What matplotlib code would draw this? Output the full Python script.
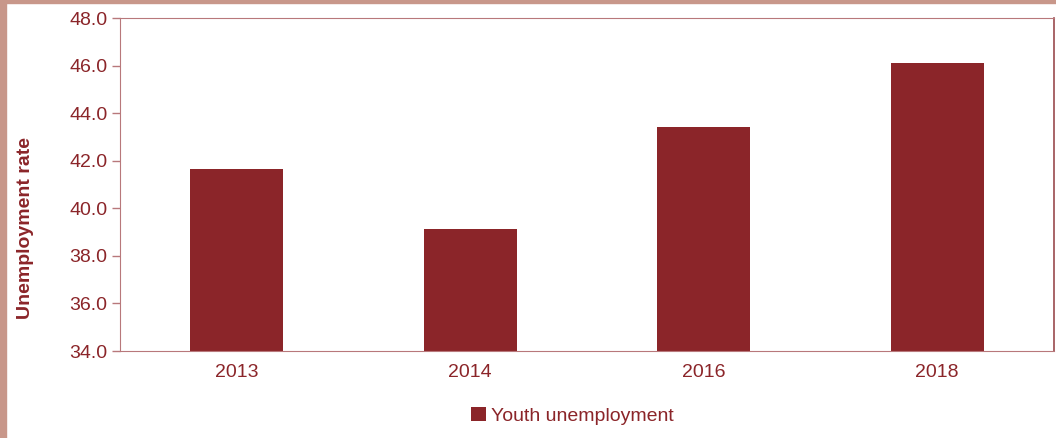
import matplotlib.pyplot as plt
from matplotlib.patches import Rectangle

years = ['2013', '2014', '2016', '2018']
youth = [41.65, 39.15, 43.4, 46.1]

bar_col = '#8B2529'
txt_col = '#8B2529'
spine_col = '#B8787B'

plt.rcParams['font.family'] = ['Liberation Sans', 'DejaVu Sans']

fig = plt.figure(figsize=(10.56, 4.38), dpi=100)
ax = fig.add_axes([0.1136, 0.1986, 0.8845, 0.7603])

x = range(len(years))
ax.bar(x, youth, width=0.4, color=bar_col, label='Youth unemployment', zorder=2)

ax.set_xlim(-0.5, len(years) - 0.5)
ax.set_ylim(34, 48)
ax.set_yticks([34, 36, 38, 40, 42, 44, 46, 48])
ax.set_yticklabels(['%.1f' % v for v in ax.get_yticks()])
ax.set_xticks(list(x))
ax.set_xticklabels(years)

for s in ['left', 'bottom', 'top']:
    ax.spines[s].set_color(spine_col)
ax.spines['right'].set_color('#9A4A4E')
ax.spines['right'].set_linewidth(1.2)

ax.tick_params(axis='y', colors=spine_col, labelcolor=txt_col, labelsize=14, length=6, width=1, pad=3)
ax.tick_params(axis='x', length=0, labelcolor=txt_col, labelsize=14, pad=9)

ax.set_ylabel('Unemployment rate', color=txt_col, fontsize=14, fontweight='bold')
ax.yaxis.set_label_coords(-0.092, 0.37)

leg = fig.legend(loc='center', bbox_to_anchor=(0.542, 0.05), frameon=False,
                 fontsize=14, handlelength=0.75, handleheight=0.75, handletextpad=0.25)
for t in leg.get_texts():
    t.set_color(txt_col)

# page border strips
fig.patches.append(Rectangle((0, 1 - 3 / 438), 1, 3 / 438, transform=fig.transFigure,
                             color='#C8978A', zorder=0))
fig.patches.append(Rectangle((0, 0), 6 / 1056, 1, transform=fig.transFigure,
                             color='#C8978A', zorder=0))

fig.savefig('out.png', dpi=100)
